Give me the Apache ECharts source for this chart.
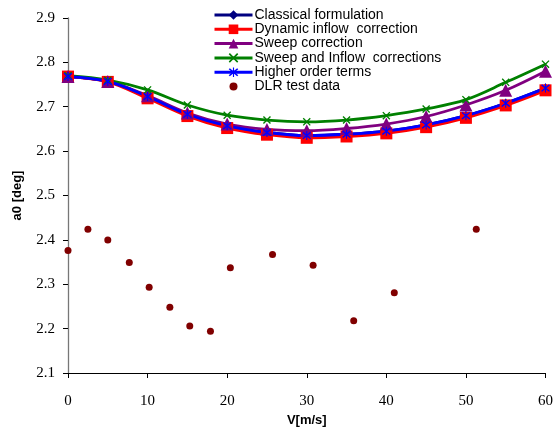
<!DOCTYPE html>
<html>
<head>
<meta charset="utf-8">
<script src="https://cdn.jsdelivr.net/npm/echarts@6/dist/echarts.min.js"></script>
<style>
  html, body { margin: 0; padding: 0; background: #fff; }
  #chart { width: 556px; height: 434px; }
</style>
</head>
<body>
<div id="chart"></div>
<script>
// Flow speeds at which the models were evaluated
const speeds = [0, 5, 10, 15, 20, 25, 30, 35, 40, 45, 50, 55, 60];

// Model predictions of a0 [deg]
const classical   = [2.768, 2.757, 2.723, 2.683, 2.657, 2.642, 2.635, 2.638, 2.645, 2.659, 2.680, 2.708, 2.742];
const dynInflow   = [2.768, 2.756, 2.719, 2.679, 2.652, 2.637, 2.630, 2.633, 2.640, 2.654, 2.675, 2.703, 2.737];
const sweep       = [2.768, 2.757, 2.725, 2.686, 2.661, 2.649, 2.646, 2.651, 2.661, 2.678, 2.704, 2.737, 2.780];
const sweepInflow = [2.770, 2.760, 2.738, 2.704, 2.681, 2.670, 2.666, 2.670, 2.680, 2.695, 2.716, 2.755, 2.796];
const higherOrder = [2.768, 2.757, 2.723, 2.683, 2.657, 2.642, 2.635, 2.638, 2.645, 2.659, 2.680, 2.708, 2.742];

// Wind tunnel measurements
const dlrSpeed = [0, 2.5, 5.0, 7.7, 10.2, 12.8, 15.3, 17.9, 20.4, 25.7, 30.8, 35.9, 41.0, 51.3];
const dlrA0    = [2.376, 2.424, 2.400, 2.349, 2.293, 2.248, 2.206, 2.194, 2.337, 2.367, 2.343, 2.218, 2.281, 2.424];

const seriesNames = [
  'Classical formulation',
  'Dynamic inflow  correction',
  'Sweep correction',
  'Sweep and Inflow  corrections',
  'Higher order terms',
  'DLR test data'
];

const xTicks = { min: 0, max: 60, step: 10 };
const yTicks = { min: 2.1, max: 2.9, step: 0.1 };

const pairs = (xs, ys) => xs.map((x, i) => [x, ys[i]]);

const crossPath = 'path://M0,1.2 L1.2,0 L10,8.8 L8.8,10 Z M8.8,0 L10,1.2 L1.2,10 L0,8.8 Z';
const starPath = 'path://M0,1.2 L1.2,0 L10,8.8 L8.8,10 Z M8.8,0 L10,1.2 L1.2,10 L0,8.8 Z M4.4,-1 L5.6,-1 L5.6,11 L4.4,11 Z';
// Small dot inside a 12x12 box, so the legend icon stays dot-sized
const legendDot = 'path://M0,0 M12,12 M2,6 A4,4 0 1 1 10,6 A4,4 0 1 1 2,6 Z';

function lineSeries(name, data, color, symbol, size) {
  return {
    name: name,
    type: 'line',
    data: pairs(speeds, data),
    smooth: 0.35,
    symbol: symbol,
    symbolSize: size,
    showAllSymbol: true,
    lineStyle: { color: color, width: 2.8 },
    itemStyle: { color: color, opacity: 1 },
    emphasis: { disabled: true },
    animation: false
  };
}

const legendItems = seriesNames.map((n, i) => (i === 5 ? { name: n, icon: legendDot } : { name: n }));

const chart = echarts.init(document.getElementById('chart'), null, { renderer: 'canvas' });

chart.setOption({
  animation: false,
  backgroundColor: '#ffffff',
  grid: { left: 68, right: 7, top: 18, bottom: 61, containLabel: false },
  legend: {
    orient: 'vertical',
    left: 213,
    top: 8,
    padding: 0,
    itemWidth: 38,
    itemHeight: 12,
    itemGap: 0.3,
    data: legendItems,
    lineStyle: { width: 3 },
    textStyle: { fontFamily: 'Liberation Sans, Arial, sans-serif', fontSize: 14, color: '#000', padding: [0, 0, 0, -3] }
  },
  xAxis: {
    type: 'value',
    min: xTicks.min,
    max: xTicks.max,
    interval: xTicks.step,
    name: 'V[m/s]',
    nameLocation: 'middle',
    nameGap: 41,
    nameTextStyle: { fontFamily: 'Liberation Sans, Arial, sans-serif', fontWeight: 'bold', fontSize: 13, color: '#000' },
    axisLine: { onZero: false, lineStyle: { color: '#000', width: 1 } },
    axisTick: { show: true, length: 5, lineStyle: { color: '#000' } },
    axisLabel: { fontFamily: 'Liberation Serif, Times New Roman, serif', fontSize: 15, color: '#000', margin: 21 },
    splitLine: { show: false }
  },
  yAxis: {
    type: 'value',
    min: yTicks.min,
    max: yTicks.max,
    interval: yTicks.step,
    name: 'a0 [deg]',
    nameLocation: 'middle',
    nameGap: 44,
    nameRotate: 90,
    nameTextStyle: { fontFamily: 'Liberation Sans, Arial, sans-serif', fontWeight: 'bold', fontSize: 13, color: '#000' },
    axisLine: { show: true, lineStyle: { color: '#777', width: 1.3 } },
    axisTick: { show: true, length: 5, lineStyle: { color: '#000' } },
    axisLabel: {
      fontFamily: 'Liberation Serif, Times New Roman, serif', fontSize: 15, color: '#000', margin: 13,
      formatter: v => v.toFixed(1)
    },
    splitLine: { show: false }
  },
  series: [
    lineSeries(seriesNames[0], classical, '#000080', 'diamond', 9),
    lineSeries(seriesNames[1], dynInflow, '#ff0000', 'rect', 12),
    lineSeries(seriesNames[2], sweep, '#800080', 'triangle', 13),
    lineSeries(seriesNames[3], sweepInflow, '#008000', crossPath, 8),
    lineSeries(seriesNames[4], higherOrder, '#0000ff', starPath, 9),
    {
      name: seriesNames[5],
      type: 'scatter',
      data: pairs(dlrSpeed, dlrA0),
      symbol: 'circle',
      symbolSize: 7,
      itemStyle: { color: '#800000', opacity: 1 },
      emphasis: { disabled: true },
      animation: false
    }
  ]
});
</script>
</body>
</html>
